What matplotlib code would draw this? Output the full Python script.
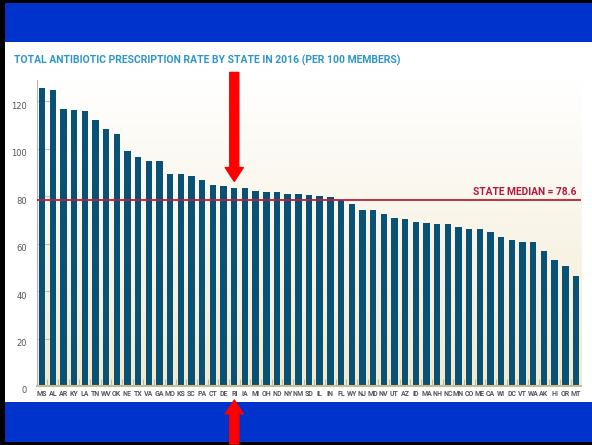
import numpy as np
import matplotlib
matplotlib.use('Agg')
import matplotlib.pyplot as plt
from matplotlib.patches import Rectangle
from matplotlib.transforms import ScaledTranslation

states = ['MS', 'AL', 'AR', 'KY', 'LA', 'TN', 'WV', 'OK', 'NE', 'TX', 'VA', 'GA', 'MO',
          'KS', 'SC', 'PA', 'CT', 'DE', 'RI', 'IA', 'MI', 'OH', 'ND', 'NY', 'NM', 'SD',
          'IL', 'IN', 'FL', 'WY', 'NJ', 'MD', 'NV', 'UT', 'AZ', 'ID', 'MA', 'NH', 'NC',
          'MN', 'CO', 'ME', 'CA', 'WI', 'DC', 'VT', 'WA', 'AK', 'HI', 'OR', 'MT']
rates = [125.7, 124.6, 116.7, 116.5, 116.0, 112.1, 108.3, 106.4, 98.9, 96.4, 95.0, 95.0, 89.2,
         89.2, 88.7, 87.0, 84.6, 84.3, 83.6, 83.3, 82.4, 81.9, 81.6, 81.1, 80.9, 80.5,
         80.0, 79.7, 78.3, 76.7, 74.4, 74.1, 72.7, 71.0, 70.4, 69.1, 68.6, 68.4, 68.2,
         67.0, 66.0, 66.0, 64.8, 62.7, 61.7, 60.5, 60.5, 57.1, 53.2, 50.4, 46.4]
median = 78.6
highlight = 'RI'
yticks = [0, 20, 40, 60, 80, 100, 120]

narrow = ['Roboto', 'DejaVu Sans']

fig = plt.figure(figsize=(5.92, 4.45), dpi=100)
fig.patch.set_facecolor('white')

# frame: blue bands and black edges
fig.add_artist(Rectangle((0, 0.9056), 1, 0.0876, transform=fig.transFigure,
                         facecolor='#0033CC', edgecolor='none', zorder=-1))
fig.add_artist(Rectangle((0, 0.0067), 1, 0.0899, transform=fig.transFigure,
                         facecolor='#0033CC', edgecolor='none', zorder=-1))
fig.add_artist(Rectangle((0, 0), 0.0084, 1, transform=fig.transFigure,
                         facecolor='black', edgecolor='none', zorder=-1))
fig.add_artist(Rectangle((0, 0.9933), 1, 0.0067, transform=fig.transFigure,
                         facecolor='black', edgecolor='none', zorder=-1))
fig.add_artist(Rectangle((0, 0), 1, 0.0067, transform=fig.transFigure,
                         facecolor='black', edgecolor='none', zorder=-1))

fig.text(0.0236, 0.865, 'TOTAL ANTIBIOTIC PRESCRIPTION RATE BY STATE IN 2016 (PER 100 MEMBERS)',
         family=narrow, fontsize=7.5, fontweight='bold', color='#2D96C8',
         ha='left', va='center')

ax = fig.add_axes([0.062, 0.1326, 0.920, 0.6876])
ax.set_facecolor('none')
x = np.arange(len(states))

# soft cream gradient behind the bars
grad = np.linspace(0, 1, 256)[:, None]
top_c = np.array([1.0, 1.0, 1.0])
bot_c = np.array([0xF2, 0xEA, 0xD0]) / 255
img = top_c + grad[..., None] * (bot_c - top_c)
ax.imshow(img, extent=[-0.5, len(states) - 0.5, 0, 129], aspect='auto', zorder=0)

ax.bar(x, rates, width=0.6, color='#0A5275', zorder=1)
ax.axhline(median, color='#BE1E3C', lw=1.3, zorder=3)
ax.annotate('STATE MEDIAN = %.1f' % median, xy=(0.992, median),
            xycoords=('axes fraction', 'data'), xytext=(0, 3.5), textcoords='offset points',
            ha='right', va='baseline', family=narrow, fontsize=7.4,
            fontweight='bold', color='#B5173E')

ax.set_xlim(-0.5, len(states) - 0.5)
ax.set_ylim(0, 129)
ax.set_axisbelow(True)

for s in ['top', 'right']:
    ax.spines[s].set_visible(False)
ax.spines['left'].set_color('#B5B5B5')
ax.spines['left'].set_linewidth(0.8)
ax.spines['bottom'].set_color('#C9BB92')
ax.spines['bottom'].set_linewidth(1.5)

ax.set_yticks(yticks)
ax.tick_params(axis='y', direction='in', length=10, width=0.8, color='#C0C0C0',
               labelsize=6, labelcolor='#555555', pad=7)
for lab in ax.get_yticklabels():
    lab.set_transform(lab.get_transform() + ScaledTranslation(0, -0.04, fig.dpi_scale_trans))

ax.set_xticks(x)
ax.set_xticklabels(states, family=narrow, fontsize=5, fontweight='bold', color='#555555')
ax.set_xticks(np.arange(0.5, len(states) - 1, 1), minor=True)
ax.tick_params(axis='x', which='major', length=0, pad=3)
ax.tick_params(axis='x', which='minor', direction='in', length=5, width=0.8, color='#C9BB92')

# red arrows pointing at the highlighted state
ri = states.index(highlight)
arrow = dict(arrowstyle='simple,head_length=10,head_width=13,tail_width=6.5',
             mutation_scale=1, color='#FF0000', shrinkA=0, shrinkB=4.5)
ax.annotate('', xy=(ri, rates[ri]), xytext=(0, 83), textcoords='offset points',
            arrowprops=arrow, annotation_clip=False)
arrow_b = dict(arrow, shrinkB=0)
ax.annotate('', xy=(ri, 45), xycoords=('data', 'figure pixels'),
            xytext=(ri, 1), textcoords=('data', 'figure pixels'),
            arrowprops=arrow_b, annotation_clip=False)

fig.savefig('out.png', dpi=100)
